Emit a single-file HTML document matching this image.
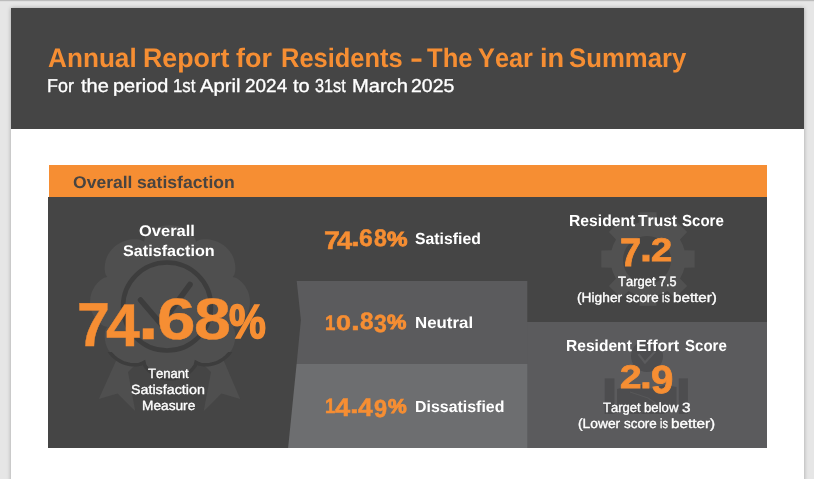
<!DOCTYPE html>
<html><head><meta charset="utf-8"><title>Annual Report for Residents</title>
<style>
html,body{margin:0;padding:0}
body{width:814px;height:479px;overflow:hidden;background:#E6E6E6;position:relative;font-family:"Liberation Sans", sans-serif;font-kerning:none;}
.topline{position:absolute;left:0;top:0;width:814px;height:2px;background:linear-gradient(#BCBCBC 0,#BCBCBC 50%,#DEDEDE 50%,#DEDEDE 100%)}
.page{position:absolute;left:11px;top:8px;width:793px;height:480px;background:#FFFFFF;box-shadow:0 0 4px rgba(0,0,0,.3)}
.hdr{position:absolute;left:11px;top:8px;width:793px;height:121px;background:#454545}
.bg{position:absolute;left:0;top:0}
.t{position:absolute;white-space:nowrap;line-height:1;transform-origin:0 0;margin:0}
.num{color:#F68E33;font-weight:700}
.ln{margin:0;padding:0;font-size:0;font-weight:400}
</style></head><body>
<div class="topline"></div>
<div class="page"></div>
<div class="hdr"></div>
<svg class="bg" width="814" height="479" viewBox="0 0 814 479">
<rect x="48" y="197" width="719" height="251" fill="#454545"/>
<rect x="526" y="322" width="241" height="126" fill="#5B5B5D"/>
<polygon points="296.7,281 527.3,281 527.3,364.3 296.6,364.3 300.9,320" fill="#5B5B5D"/>
<polygon points="296.6,364 527.3,364 527.3,448 288.1,448" fill="#6D6E70"/>
<rect x="49" y="165" width="718" height="32" fill="#F68E33"/>
<!-- rosette badge -->
<clipPath id="lower"><rect x="80" y="352" width="180" height="60"/></clipPath>
<g fill="#4F4F4F">
<polygon points="120,352 98.8,399 117.6,393.6 135.3,411.3 128,372 140,360"/>
<polygon points="220,352 240.2,399 221.4,393.6 203.7,411.3 211,372 199,360"/>
<path d="M250.0,302.0 L249.9,304.0 L249.7,306.0 L249.3,308.0 L248.8,310.0 L248.2,311.9 L247.4,313.8 L246.4,315.6 L245.4,317.4 L244.2,319.1 L242.8,320.7 L241.3,322.3 L239.7,323.7 L237.9,325.1 L235.8,326.2 L232.8,327.0 L234.4,329.5 L235.0,331.8 L235.3,333.9 L235.4,336.1 L235.3,338.2 L235.0,340.3 L234.6,342.3 L234.1,344.3 L233.4,346.2 L232.6,348.1 L231.6,349.9 L230.5,351.6 L229.3,353.3 L228.0,354.8 L226.6,356.3 L225.0,357.7 L223.4,358.9 L221.7,360.1 L219.9,361.1 L218.0,362.1 L216.1,362.8 L214.0,363.5 L212.0,364.0 L209.9,364.4 L207.7,364.7 L205.5,364.8 L203.3,364.7 L201.0,364.4 L198.7,363.8 L196.0,362.3 L195.3,365.2 L194.0,367.2 L192.6,368.9 L191.1,370.5 L189.5,371.9 L187.8,373.2 L186.0,374.4 L184.2,375.4 L182.3,376.3 L180.3,377.0 L178.3,377.7 L176.2,378.2 L174.2,378.5 L172.1,378.7 L170.0,378.8 L167.9,378.7 L165.8,378.5 L163.8,378.2 L161.7,377.7 L159.7,377.0 L157.7,376.3 L155.8,375.4 L154.0,374.4 L152.2,373.2 L150.5,371.9 L148.9,370.5 L147.4,368.9 L146.0,367.2 L144.7,365.2 L144.0,362.3 L141.3,363.8 L139.0,364.4 L136.7,364.7 L134.5,364.8 L132.3,364.7 L130.1,364.4 L128.0,364.0 L126.0,363.5 L123.9,362.8 L122.0,362.1 L120.1,361.1 L118.3,360.1 L116.6,358.9 L115.0,357.7 L113.4,356.3 L112.0,354.8 L110.7,353.3 L109.5,351.6 L108.4,349.9 L107.4,348.1 L106.6,346.2 L105.9,344.3 L105.4,342.3 L105.0,340.3 L104.7,338.2 L104.6,336.1 L104.7,333.9 L105.0,331.8 L105.6,329.5 L107.2,327.0 L104.2,326.2 L102.1,325.1 L100.3,323.7 L98.7,322.3 L97.2,320.7 L95.8,319.1 L94.6,317.4 L93.6,315.6 L92.6,313.8 L91.8,311.9 L91.2,310.0 L90.7,308.0 L90.3,306.0 L90.1,304.0 L90.0,302.0 L90.1,300.0 L90.3,298.0 L90.7,296.0 L91.2,294.0 L91.8,292.1 L92.6,290.2 L93.6,288.4 L94.6,286.6 L95.8,284.9 L97.2,283.3 L98.7,281.7 L100.3,280.3 L102.1,278.9 L104.2,277.8 L107.2,277.0 L105.6,274.5 L105.0,272.2 L104.7,270.1 L104.6,267.9 L104.7,265.8 L105.0,263.7 L105.4,261.7 L105.9,259.7 L106.6,257.8 L107.4,255.9 L108.4,254.1 L109.5,252.4 L110.7,250.7 L112.0,249.2 L113.4,247.7 L115.0,246.3 L116.6,245.1 L118.3,243.9 L120.1,242.9 L122.0,241.9 L123.9,241.2 L126.0,240.5 L128.0,240.0 L130.1,239.6 L132.3,239.3 L134.5,239.2 L136.7,239.3 L139.0,239.6 L141.3,240.2 L144.0,241.7 L144.7,238.8 L146.0,236.8 L147.4,235.1 L148.9,233.5 L150.5,232.1 L152.2,230.8 L154.0,229.6 L155.8,228.6 L157.7,227.7 L159.7,227.0 L161.7,226.3 L163.8,225.8 L165.8,225.5 L167.9,225.3 L170.0,225.2 L172.1,225.3 L174.2,225.5 L176.2,225.8 L178.3,226.3 L180.3,227.0 L182.3,227.7 L184.2,228.6 L186.0,229.6 L187.8,230.8 L189.5,232.1 L191.1,233.5 L192.6,235.1 L194.0,236.8 L195.3,238.8 L196.0,241.7 L198.7,240.2 L201.0,239.6 L203.3,239.3 L205.5,239.2 L207.7,239.3 L209.9,239.6 L212.0,240.0 L214.0,240.5 L216.1,241.2 L218.0,241.9 L219.9,242.9 L221.7,243.9 L223.4,245.1 L225.0,246.3 L226.6,247.7 L228.0,249.2 L229.3,250.7 L230.5,252.4 L231.6,254.1 L232.6,255.9 L233.4,257.8 L234.1,259.7 L234.6,261.7 L235.0,263.7 L235.3,265.8 L235.4,267.9 L235.3,270.1 L235.0,272.2 L234.4,274.5 L232.8,277.0 L235.8,277.8 L237.9,278.9 L239.7,280.3 L241.3,281.7 L242.8,283.3 L244.2,284.9 L245.4,286.6 L246.4,288.4 L247.4,290.2 L248.2,292.1 L248.8,294.0 L249.3,296.0 L249.7,298.0 L249.9,300.0Z"/>
</g>
<path d="M250.0,302.0 L249.9,304.0 L249.7,306.0 L249.3,308.0 L248.8,310.0 L248.2,311.9 L247.4,313.8 L246.4,315.6 L245.4,317.4 L244.2,319.1 L242.8,320.7 L241.3,322.3 L239.7,323.7 L237.9,325.1 L235.8,326.2 L232.8,327.0 L234.4,329.5 L235.0,331.8 L235.3,333.9 L235.4,336.1 L235.3,338.2 L235.0,340.3 L234.6,342.3 L234.1,344.3 L233.4,346.2 L232.6,348.1 L231.6,349.9 L230.5,351.6 L229.3,353.3 L228.0,354.8 L226.6,356.3 L225.0,357.7 L223.4,358.9 L221.7,360.1 L219.9,361.1 L218.0,362.1 L216.1,362.8 L214.0,363.5 L212.0,364.0 L209.9,364.4 L207.7,364.7 L205.5,364.8 L203.3,364.7 L201.0,364.4 L198.7,363.8 L196.0,362.3 L195.3,365.2 L194.0,367.2 L192.6,368.9 L191.1,370.5 L189.5,371.9 L187.8,373.2 L186.0,374.4 L184.2,375.4 L182.3,376.3 L180.3,377.0 L178.3,377.7 L176.2,378.2 L174.2,378.5 L172.1,378.7 L170.0,378.8 L167.9,378.7 L165.8,378.5 L163.8,378.2 L161.7,377.7 L159.7,377.0 L157.7,376.3 L155.8,375.4 L154.0,374.4 L152.2,373.2 L150.5,371.9 L148.9,370.5 L147.4,368.9 L146.0,367.2 L144.7,365.2 L144.0,362.3 L141.3,363.8 L139.0,364.4 L136.7,364.7 L134.5,364.8 L132.3,364.7 L130.1,364.4 L128.0,364.0 L126.0,363.5 L123.9,362.8 L122.0,362.1 L120.1,361.1 L118.3,360.1 L116.6,358.9 L115.0,357.7 L113.4,356.3 L112.0,354.8 L110.7,353.3 L109.5,351.6 L108.4,349.9 L107.4,348.1 L106.6,346.2 L105.9,344.3 L105.4,342.3 L105.0,340.3 L104.7,338.2 L104.6,336.1 L104.7,333.9 L105.0,331.8 L105.6,329.5 L107.2,327.0 L104.2,326.2 L102.1,325.1 L100.3,323.7 L98.7,322.3 L97.2,320.7 L95.8,319.1 L94.6,317.4 L93.6,315.6 L92.6,313.8 L91.8,311.9 L91.2,310.0 L90.7,308.0 L90.3,306.0 L90.1,304.0 L90.0,302.0 L90.1,300.0 L90.3,298.0 L90.7,296.0 L91.2,294.0 L91.8,292.1 L92.6,290.2 L93.6,288.4 L94.6,286.6 L95.8,284.9 L97.2,283.3 L98.7,281.7 L100.3,280.3 L102.1,278.9 L104.2,277.8 L107.2,277.0 L105.6,274.5 L105.0,272.2 L104.7,270.1 L104.6,267.9 L104.7,265.8 L105.0,263.7 L105.4,261.7 L105.9,259.7 L106.6,257.8 L107.4,255.9 L108.4,254.1 L109.5,252.4 L110.7,250.7 L112.0,249.2 L113.4,247.7 L115.0,246.3 L116.6,245.1 L118.3,243.9 L120.1,242.9 L122.0,241.9 L123.9,241.2 L126.0,240.5 L128.0,240.0 L130.1,239.6 L132.3,239.3 L134.5,239.2 L136.7,239.3 L139.0,239.6 L141.3,240.2 L144.0,241.7 L144.7,238.8 L146.0,236.8 L147.4,235.1 L148.9,233.5 L150.5,232.1 L152.2,230.8 L154.0,229.6 L155.8,228.6 L157.7,227.7 L159.7,227.0 L161.7,226.3 L163.8,225.8 L165.8,225.5 L167.9,225.3 L170.0,225.2 L172.1,225.3 L174.2,225.5 L176.2,225.8 L178.3,226.3 L180.3,227.0 L182.3,227.7 L184.2,228.6 L186.0,229.6 L187.8,230.8 L189.5,232.1 L191.1,233.5 L192.6,235.1 L194.0,236.8 L195.3,238.8 L196.0,241.7 L198.7,240.2 L201.0,239.6 L203.3,239.3 L205.5,239.2 L207.7,239.3 L209.9,239.6 L212.0,240.0 L214.0,240.5 L216.1,241.2 L218.0,241.9 L219.9,242.9 L221.7,243.9 L223.4,245.1 L225.0,246.3 L226.6,247.7 L228.0,249.2 L229.3,250.7 L230.5,252.4 L231.6,254.1 L232.6,255.9 L233.4,257.8 L234.1,259.7 L234.6,261.7 L235.0,263.7 L235.3,265.8 L235.4,267.9 L235.3,270.1 L235.0,272.2 L234.4,274.5 L232.8,277.0 L235.8,277.8 L237.9,278.9 L239.7,280.3 L241.3,281.7 L242.8,283.3 L244.2,284.9 L245.4,286.6 L246.4,288.4 L247.4,290.2 L248.2,292.1 L248.8,294.0 L249.3,296.0 L249.7,298.0 L249.9,300.0Z" fill="none" stroke="#3D3D3D" stroke-width="3.5" clip-path="url(#lower)"/>
<circle cx="167" cy="306.5" r="44" fill="none" stroke="#3D3D3D" stroke-width="4.5"/>
<path d="M140.5,300 L161,324 L190,284.5" fill="none" stroke="#3D3D3D" stroke-width="5.5" stroke-linecap="round" stroke-linejoin="round"/>
<!-- gear -->
<path d="M684.5,250.2 L694.7,250.5 L694.7,267.5 L684.5,267.8 A37.5,37.5 0 0 1 680.0,278.6 L687.1,286.0 L675.0,298.1 L667.6,291.0 A37.5,37.5 0 0 1 656.8,295.5 L656.5,305.7 L639.5,305.7 L639.2,295.5 A37.5,37.5 0 0 1 628.4,291.0 L621.0,298.1 L608.9,286.0 L616.0,278.6 A37.5,37.5 0 0 1 611.5,267.8 L601.3,267.5 L601.3,250.5 L611.5,250.2 A37.5,37.5 0 0 1 616.0,239.4 L608.9,232.0 L621.0,219.9 L628.4,227.0 A37.5,37.5 0 0 1 639.2,222.5 L639.5,212.3 L656.5,212.3 L656.8,222.5 A37.5,37.5 0 0 1 667.6,227.0 L675.0,219.9 L687.1,232.0 L680.0,239.4 A37.5,37.5 0 0 1 684.5,250.2Z" fill="#515151"/>
<circle cx="647" cy="260" r="24" fill="#454545"/>
<!-- handshake -->
<g fill="#4D4D4F">
<circle cx="647" cy="356" r="16"/>
<rect x="604.7" y="378.4" width="9.7" height="35.6"/>
<rect x="678.8" y="378.4" width="9.1" height="35.6"/>
<path d="M617,389 L630,386 L642,385 L652,389 L664,385 L676.5,387 L676.5,409 L664,414 L630,414 L617,408Z"/>
</g>
<path d="M638.4,354 L645,362.6 L655,351.5" fill="none" stroke="#5B5B5D" stroke-width="2.2"/>
<path d="M630,392 L648,398 L668,412 M640,414 L655,402" fill="none" stroke="#5B5B5D" stroke-width="1.2" opacity=".7"/>
</svg>
<h1 class="ln"><span class="t" style="left:47.55px;top:45.46px;font-size:26.74px;font-weight:700;color:#F68E33;transform:scaleX(0.9788) skewX(.05deg)">Annual</span> <span class="t" style="left:143.21px;top:45.46px;font-size:26.74px;font-weight:700;color:#F68E33;transform:scaleX(1.0017) skewX(.05deg)">Report</span> <span class="t" style="left:235.74px;top:45.46px;font-size:26.74px;font-weight:700;color:#F68E33;transform:scaleX(1.0089) skewX(.05deg)">for</span> <span class="t" style="left:280.50px;top:45.46px;font-size:26.74px;font-weight:700;color:#F68E33;transform:scaleX(0.9525) skewX(.05deg)">Residents</span> <span class="t" style="left:409.58px;top:45.46px;font-size:26.74px;font-weight:700;color:#F68E33;transform:scaleX(1.4579) skewX(.05deg)">-</span> <span class="t" style="left:426.71px;top:45.46px;font-size:26.74px;font-weight:700;color:#F68E33;transform:scaleX(0.9583) skewX(.05deg)">The</span> <span class="t" style="left:478.17px;top:45.46px;font-size:26.74px;font-weight:700;color:#F68E33;transform:scaleX(0.9469) skewX(.05deg)">Year</span> <span class="t" style="left:539.60px;top:45.46px;font-size:26.74px;font-weight:700;color:#F68E33;transform:scaleX(1.0177) skewX(.05deg)">in</span> <span class="t" style="left:569.36px;top:45.46px;font-size:26.74px;font-weight:700;color:#F68E33;transform:scaleX(0.9638) skewX(.05deg)">Summary</span></h1>
<p class="ln"><span class="t" style="left:47.43px;top:77.35px;font-size:18.60px;font-weight:400;color:#FFFFFF;-webkit-text-stroke:.35px;transform:scaleX(0.9627) skewX(.05deg)">For</span> <span class="t" style="left:81.10px;top:77.35px;font-size:18.60px;font-weight:400;color:#FFFFFF;-webkit-text-stroke:.35px;transform:scaleX(1.0786) skewX(.05deg)">the</span> <span class="t" style="left:112.91px;top:77.35px;font-size:18.60px;font-weight:400;color:#FFFFFF;-webkit-text-stroke:.35px;transform:scaleX(1.0726) skewX(.05deg)">period</span> <span class="t" style="left:172.52px;top:77.35px;font-size:18.60px;font-weight:400;color:#FFFFFF;-webkit-text-stroke:.35px;transform:scaleX(0.9026) skewX(.05deg)">1st</span> <span class="t" style="left:200.36px;top:77.35px;font-size:18.60px;font-weight:400;color:#FFFFFF;-webkit-text-stroke:.35px;transform:scaleX(1.0908) skewX(.05deg)">April</span> <span class="t" style="left:245.45px;top:77.35px;font-size:18.60px;font-weight:400;color:#FFFFFF;-webkit-text-stroke:.35px;transform:scaleX(1.0198) skewX(.05deg)">2024</span> <span class="t" style="left:292.70px;top:77.35px;font-size:18.60px;font-weight:400;color:#FFFFFF;-webkit-text-stroke:.35px;transform:scaleX(1.0793) skewX(.05deg)">to</span> <span class="t" style="left:314.68px;top:77.35px;font-size:18.60px;font-weight:400;color:#FFFFFF;-webkit-text-stroke:.35px;transform:scaleX(0.8712) skewX(.05deg)">31st</span> <span class="t" style="left:351.54px;top:77.35px;font-size:18.60px;font-weight:400;color:#FFFFFF;-webkit-text-stroke:.35px;transform:scaleX(1.0846) skewX(.05deg)">March</span> <span class="t" style="left:410.92px;top:77.35px;font-size:18.60px;font-weight:400;color:#FFFFFF;-webkit-text-stroke:.35px;transform:scaleX(1.0461) skewX(.05deg)">2025</span></p>
<h2 class="ln"><span class="t" style="left:73.08px;top:173.70px;font-size:17.01px;font-weight:700;color:#484441;transform:scaleX(1.0311) skewX(.05deg)">Overall</span> <span class="t" style="left:136.88px;top:173.70px;font-size:17.01px;font-weight:700;color:#484441;transform:scaleX(1.0350) skewX(.05deg)">satisfaction</span></h2>
<div class="ln"><span class="t" style="left:138.92px;top:222.56px;font-size:15.41px;font-weight:700;color:#FFFFFF;transform:scaleX(1.0708) skewX(.05deg)">Overall</span> <span class="t" style="left:122.73px;top:242.63px;font-size:15.55px;font-weight:700;color:#FFFFFF;transform:scaleX(1.0411) skewX(.05deg)">Satisfaction</span></div>
<div class="num"><span class="t" style="left:77.24px;top:294.23px;font-size:62.21px;-webkit-text-stroke:0.4px;transform:scaleX(0.9530) skewX(.05deg)">7</span><span class="t" style="left:106.48px;top:294.50px;font-size:60.47px;-webkit-text-stroke:0.4px;transform:scaleX(1.0065) skewX(.05deg)">4</span><span class="t" style="left:137.88px;top:282.01px;font-size:68.49px;-webkit-text-stroke:0.4px;transform:scaleX(1.0828) skewX(.05deg)">.</span><span class="t" style="left:156.50px;top:290.12px;font-size:58.47px;-webkit-text-stroke:0.4px;transform:scaleX(1.1860) skewX(.05deg)">6</span><span class="t" style="left:193.82px;top:290.12px;font-size:58.47px;-webkit-text-stroke:0.4px;transform:scaleX(1.1344) skewX(.05deg)">8</span><span class="t" style="left:229.25px;top:298.05px;font-size:48.04px;-webkit-text-stroke:1.6px;transform:scaleX(0.8628) skewX(.05deg)">%</span></div>
<div class="ln"><span class="t" style="left:147.71px;top:366.74px;font-size:13.37px;font-weight:400;color:#FFFFFF;-webkit-text-stroke:.35px;transform:scaleX(0.9798) skewX(.05deg)">Tenant</span> <span class="t" style="left:131.45px;top:383.14px;font-size:13.23px;font-weight:400;color:#FFFFFF;-webkit-text-stroke:.35px;transform:scaleX(1.0805) skewX(.05deg)">Satisfaction</span> <span class="t" style="left:141.58px;top:399.14px;font-size:13.37px;font-weight:400;color:#FFFFFF;-webkit-text-stroke:.35px;transform:scaleX(1.0251) skewX(.05deg)">Measure</span></div>
<div class="num"><span class="t" style="left:323.54px;top:227.89px;font-size:25.58px;-webkit-text-stroke:0.5px;transform:scaleX(1.1274) skewX(.05deg)">7</span><span class="t" style="left:336.86px;top:227.98px;font-size:25.00px;-webkit-text-stroke:0.5px;transform:scaleX(1.0941) skewX(.05deg)">4</span><span class="t" style="left:351.43px;top:223.04px;font-size:27.53px;-webkit-text-stroke:0.5px;transform:scaleX(1.1604) skewX(.05deg)">.</span><span class="t" style="left:359.45px;top:225.79px;font-size:24.01px;-webkit-text-stroke:0.5px;transform:scaleX(1.0324) skewX(.05deg)">6</span><span class="t" style="left:373.71px;top:225.79px;font-size:24.01px;-webkit-text-stroke:0.5px;transform:scaleX(0.9634) skewX(.05deg)">8</span><span class="t" style="left:387.20px;top:228.73px;font-size:20.32px;-webkit-text-stroke:1.0px;transform:scaleX(1.1311) skewX(.05deg)">%</span></div>
<div class="ln"><span class="t" style="left:415.24px;top:231.06px;font-size:15.99px;font-weight:700;color:#FFFFFF;transform:scaleX(0.9889) skewX(.05deg)">Satisfied</span></div>
<div class="num"><span class="t" style="left:325.25px;top:311.91px;font-size:21.08px;-webkit-text-stroke:0.5px;transform:scaleX(0.8832) skewX(.05deg)">1</span><span class="t" style="left:336.26px;top:312.13px;font-size:21.04px;-webkit-text-stroke:0.5px;transform:scaleX(1.2839) skewX(.05deg)">0</span><span class="t" style="left:351.46px;top:307.98px;font-size:26.19px;-webkit-text-stroke:0.5px;transform:scaleX(1.2117) skewX(.05deg)">.</span><span class="t" style="left:359.59px;top:309.83px;font-size:23.73px;-webkit-text-stroke:0.5px;transform:scaleX(1.0234) skewX(.05deg)">8</span><span class="t" style="left:373.90px;top:311.87px;font-size:24.81px;-webkit-text-stroke:0.5px;transform:scaleX(0.9276) skewX(.05deg)">3</span><span class="t" style="left:387.19px;top:312.41px;font-size:20.47px;-webkit-text-stroke:1.0px;transform:scaleX(1.0633) skewX(.05deg)">%</span></div>
<div class="ln"><span class="t" style="left:414.57px;top:315.06px;font-size:15.99px;font-weight:700;color:#FFFFFF;transform:scaleX(1.0551) skewX(.05deg)">Neutral</span></div>
<div class="num"><span class="t" style="left:325.25px;top:395.97px;font-size:20.64px;-webkit-text-stroke:0.5px;transform:scaleX(0.9009) skewX(.05deg)">1</span><span class="t" style="left:335.16px;top:395.24px;font-size:25.29px;-webkit-text-stroke:0.5px;transform:scaleX(1.0820) skewX(.05deg)">4</span><span class="t" style="left:350.43px;top:393.85px;font-size:23.50px;-webkit-text-stroke:0.5px;transform:scaleX(1.3287) skewX(.05deg)">.</span><span class="t" style="left:358.26px;top:395.24px;font-size:25.29px;-webkit-text-stroke:0.5px;transform:scaleX(1.0464) skewX(.05deg)">4</span><span class="t" style="left:374.22px;top:395.56px;font-size:24.86px;-webkit-text-stroke:0.5px;transform:scaleX(0.9490) skewX(.05deg)">9</span><span class="t" style="left:387.81px;top:396.50px;font-size:19.90px;-webkit-text-stroke:1.0px;transform:scaleX(1.0580) skewX(.05deg)">%</span></div>
<div class="ln"><span class="t" style="left:414.63px;top:399.06px;font-size:15.99px;font-weight:700;color:#FFFFFF;transform:scaleX(0.9963) skewX(.05deg)">Dissatisfied</span></div>
<h3 class="ln"><span class="t" style="left:569.05px;top:212.96px;font-size:15.99px;font-weight:700;color:#FFFFFF;transform:scaleX(0.9825) skewX(.05deg)">Resident</span> <span class="t" style="left:638.42px;top:212.96px;font-size:15.99px;font-weight:700;color:#FFFFFF;transform:scaleX(0.9773) skewX(.05deg)">Trust</span> <span class="t" style="left:681.77px;top:212.96px;font-size:15.99px;font-weight:700;color:#FFFFFF;transform:scaleX(0.9417) skewX(.05deg)">Score</span></h3>
<div class="num"><span class="t" style="left:620.25px;top:232.90px;font-size:39.68px;-webkit-text-stroke:0.8px;transform:scaleX(0.9579) skewX(.05deg)">7</span><span class="t" style="left:640.12px;top:228.73px;font-size:38.95px;-webkit-text-stroke:0.8px;transform:scaleX(1.1095) skewX(.05deg)">.</span><span class="t" style="left:651.25px;top:234.05px;font-size:32.65px;-webkit-text-stroke:0.8px;transform:scaleX(1.1678) skewX(.05deg)">2</span></div>
<div class="ln"><span class="t" style="left:618.21px;top:274.76px;font-size:13.52px;font-weight:400;color:#FFFFFF;-webkit-text-stroke:.35px;transform:scaleX(0.9621) skewX(.05deg)">Target</span> <span class="t" style="left:658.85px;top:274.76px;font-size:13.52px;font-weight:400;color:#FFFFFF;-webkit-text-stroke:.35px;transform:scaleX(0.9355) skewX(.05deg)">7.5</span></div>
<div class="ln"><span class="t" style="left:576.85px;top:290.88px;font-size:13.37px;font-weight:400;color:#FFFFFF;-webkit-text-stroke:.35px;transform:scaleX(1.0305) skewX(.05deg)">(Higher</span> <span class="t" style="left:625.83px;top:290.88px;font-size:13.37px;font-weight:400;color:#FFFFFF;-webkit-text-stroke:.35px;transform:scaleX(1.0021) skewX(.05deg)">score</span> <span class="t" style="left:661.58px;top:290.88px;font-size:13.37px;font-weight:400;color:#FFFFFF;-webkit-text-stroke:.35px;transform:scaleX(0.8092) skewX(.05deg)">is</span> <span class="t" style="left:672.82px;top:290.88px;font-size:13.37px;font-weight:400;color:#FFFFFF;-webkit-text-stroke:.35px;transform:scaleX(1.1365) skewX(.05deg)">better)</span></div>
<h3 class="ln"><span class="t" style="left:566.36px;top:337.96px;font-size:15.99px;font-weight:700;color:#FFFFFF;transform:scaleX(0.9750) skewX(.05deg)">Resident</span> <span class="t" style="left:636.32px;top:337.96px;font-size:15.99px;font-weight:700;color:#FFFFFF;transform:scaleX(1.0130) skewX(.05deg)">Effort</span> <span class="t" style="left:684.87px;top:337.96px;font-size:15.99px;font-weight:700;color:#FFFFFF;transform:scaleX(0.9417) skewX(.05deg)">Score</span></h3>
<div class="num"><span class="t" style="left:620.14px;top:361.05px;font-size:32.65px;-webkit-text-stroke:0.8px;transform:scaleX(1.1859) skewX(.05deg)">2</span><span class="t" style="left:640.20px;top:358.57px;font-size:35.59px;-webkit-text-stroke:0.8px;transform:scaleX(1.1972) skewX(.05deg)">.</span><span class="t" style="left:651.12px;top:360.07px;font-size:39.27px;-webkit-text-stroke:0.8px;transform:scaleX(1.0242) skewX(.05deg)">9</span></div>
<div class="ln"><span class="t" style="left:602.51px;top:400.94px;font-size:13.37px;font-weight:400;color:#FFFFFF;-webkit-text-stroke:.35px;transform:scaleX(0.9752) skewX(.05deg)">Target</span> <span class="t" style="left:643.75px;top:400.94px;font-size:13.37px;font-weight:400;color:#FFFFFF;-webkit-text-stroke:.35px;transform:scaleX(0.9851) skewX(.05deg)">below</span> <span class="t" style="left:682.01px;top:400.94px;font-size:13.37px;font-weight:400;color:#FFFFFF;-webkit-text-stroke:.35px;transform:scaleX(1.1514) skewX(.05deg)">3</span></div>
<div class="ln"><span class="t" style="left:577.94px;top:416.88px;font-size:13.37px;font-weight:400;color:#FFFFFF;-webkit-text-stroke:.35px;transform:scaleX(1.0321) skewX(.05deg)">(Lower</span> <span class="t" style="left:623.93px;top:416.88px;font-size:13.37px;font-weight:400;color:#FFFFFF;-webkit-text-stroke:.35px;transform:scaleX(1.0021) skewX(.05deg)">score</span> <span class="t" style="left:659.68px;top:416.88px;font-size:13.37px;font-weight:400;color:#FFFFFF;-webkit-text-stroke:.35px;transform:scaleX(0.8092) skewX(.05deg)">is</span> <span class="t" style="left:670.91px;top:416.88px;font-size:13.37px;font-weight:400;color:#FFFFFF;-webkit-text-stroke:.35px;transform:scaleX(1.1446) skewX(.05deg)">better)</span></div>
</body></html>
